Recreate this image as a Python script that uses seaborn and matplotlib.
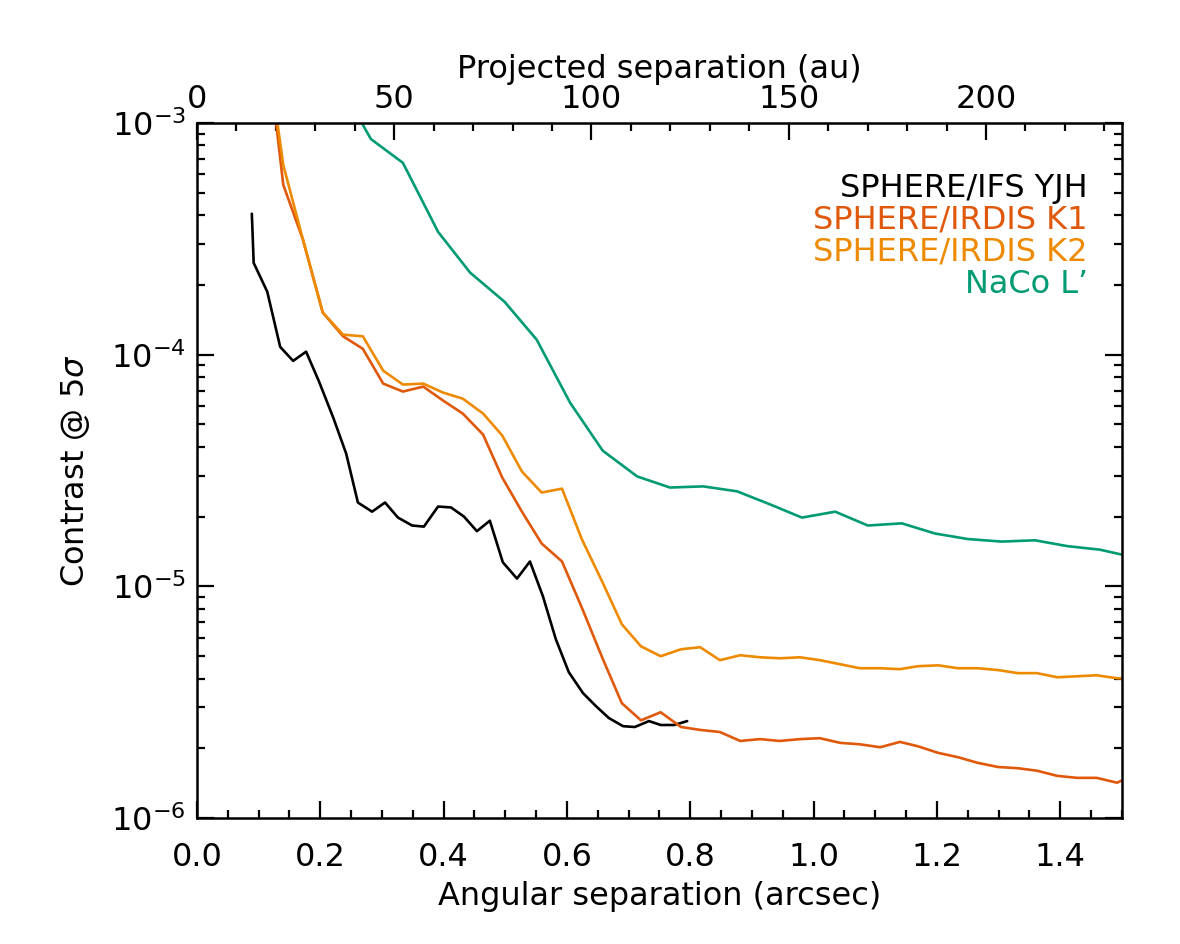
import numpy as np
import pandas as pd
import seaborn as sns
import matplotlib.pyplot as plt
from matplotlib.ticker import MultipleLocator, FixedLocator

# contrast curves (separation in arcsec, 5 sigma contrast)
ifs_sep = [0.089, 0.092, 0.114, 0.135, 0.156, 0.177, 0.198, 0.221, 0.242, 0.261,
           0.284, 0.305, 0.326, 0.349, 0.368, 0.391, 0.412, 0.433, 0.454, 0.475,
           0.496, 0.519, 0.540, 0.561, 0.582, 0.603, 0.626, 0.647, 0.668, 0.691,
           0.710, 0.733, 0.752, 0.774, 0.795]
ifs_con = [4.06e-4, 2.49e-4, 1.87e-4, 1.08e-4, 9.4e-5, 1.03e-4, 7.65e-5, 5.35e-5, 3.74e-5, 2.30e-5,
           2.10e-5, 2.30e-5, 1.98e-5, 1.83e-5, 1.81e-5, 2.21e-5, 2.19e-5, 2.00e-5, 1.73e-5, 1.92e-5,
           1.27e-5, 1.08e-5, 1.28e-5, 9.06e-6, 5.91e-6, 4.26e-6, 3.46e-6, 3.04e-6, 2.70e-6, 2.49e-6,
           2.47e-6, 2.62e-6, 2.52e-6, 2.52e-6, 2.62e-6]

irdis_sep = [0.107, 0.140, 0.172, 0.204, 0.237, 0.269, 0.302, 0.334, 0.367, 0.399,
             0.431, 0.464, 0.495, 0.527, 0.559, 0.592, 0.624, 0.657, 0.689, 0.720,
             0.752, 0.785, 0.816, 0.848, 0.881, 0.913, 0.945, 0.978, 1.010, 1.043,
             1.075, 1.108, 1.140, 1.169, 1.202, 1.234, 1.266, 1.299, 1.331, 1.362,
             1.395, 1.427, 1.459, 1.492, 1.524]
k1_con = [3.1e-3, 5.41e-4, 3.13e-4, 1.52e-4, 1.20e-4, 1.06e-4, 7.50e-5, 6.93e-5, 7.28e-5, 6.34e-5,
          5.57e-5, 4.52e-5, 2.95e-5, 2.10e-5, 1.53e-5, 1.28e-5, 8.11e-6, 4.94e-6, 3.13e-6, 2.64e-6,
          2.86e-6, 2.47e-6, 2.40e-6, 2.35e-6, 2.15e-6, 2.19e-6, 2.15e-6, 2.19e-6, 2.21e-6, 2.11e-6,
          2.08e-6, 2.02e-6, 2.13e-6, 2.04e-6, 1.91e-6, 1.83e-6, 1.73e-6, 1.66e-6, 1.64e-6, 1.60e-6,
          1.52e-6, 1.49e-6, 1.49e-6, 1.42e-6, 1.55e-6]
k2_con = [2.8e-3, 6.59e-4, 3.13e-4, 1.52e-4, 1.22e-4, 1.20e-4, 8.53e-5, 7.43e-5, 7.50e-5, 6.86e-5,
          6.46e-5, 5.57e-5, 4.48e-5, 3.13e-5, 2.54e-5, 2.64e-5, 1.60e-5, 1.05e-5, 6.86e-6, 5.51e-6,
          4.99e-6, 5.35e-6, 5.46e-6, 4.80e-6, 5.04e-6, 4.94e-6, 4.89e-6, 4.94e-6, 4.80e-6, 4.61e-6,
          4.43e-6, 4.43e-6, 4.39e-6, 4.52e-6, 4.56e-6, 4.43e-6, 4.43e-6, 4.35e-6, 4.22e-6, 4.22e-6,
          4.05e-6, 4.09e-6, 4.13e-6, 4.01e-6, 4.0e-6]

naco_sep = [0.227, 0.282, 0.334, 0.391, 0.443, 0.499, 0.551, 0.605, 0.658, 0.714,
            0.767, 0.821, 0.876, 0.929, 0.981, 1.035, 1.088, 1.143, 1.197, 1.250,
            1.305, 1.359, 1.412, 1.464, 1.500]
naco_con = [1.55e-3, 8.53e-4, 6.73e-4, 3.39e-4, 2.26e-4, 1.69e-4, 1.16e-4, 6.21e-5, 3.85e-5, 2.98e-5,
            2.67e-5, 2.70e-5, 2.57e-5, 2.26e-5, 1.98e-5, 2.10e-5, 1.83e-5, 1.87e-5, 1.69e-5, 1.60e-5,
            1.56e-5, 1.58e-5, 1.49e-5, 1.44e-5, 1.37e-5]

labels = ['SPHERE/IFS YJH', 'SPHERE/IRDIS K1', 'SPHERE/IRDIS K2', 'NaCo L’']
colors = ['black', '#E0580A', '#EE8A00', '#009B72']
au_per_arcsec = 156.3

df = pd.concat([
    pd.DataFrame({'sep': ifs_sep, 'con': ifs_con, 'inst': labels[0]}),
    pd.DataFrame({'sep': irdis_sep, 'con': k1_con, 'inst': labels[1]}),
    pd.DataFrame({'sep': irdis_sep, 'con': k2_con, 'inst': labels[2]}),
    pd.DataFrame({'sep': naco_sep, 'con': naco_con, 'inst': labels[3]}),
])

sns.set_style('white')
plt.rcParams['font.family'] = ['DejaVu Sans']
plt.rcParams['mathtext.fontset'] = 'dejavusans'
plt.rcParams['text.color'] = 'black'
plt.rcParams['axes.labelcolor'] = 'black'

fig = plt.figure(figsize=(11.8, 9.44), dpi=100)
ax = fig.add_axes([0.1669, 0.1335, 0.7839, 0.7362])

sns.lineplot(data=df, x='sep', y='con', hue='inst', palette=dict(zip(labels, colors)),
             estimator=None, sort=False, linewidth=1.9, legend=False, ax=ax)

ax.set_yscale('log')
ax.set_xlim(0, 1.5)
ax.set_ylim(1e-6, 1e-3)

ax.xaxis.set_major_locator(MultipleLocator(0.2))
ax.xaxis.set_minor_locator(MultipleLocator(0.05))
ax.xaxis.set_major_formatter(plt.FormatStrFormatter('%.1f'))
ax.tick_params(which='both', direction='in', bottom=True, left=True, top=False, right=True,
               width=1.6, color='black', labelcolor='black')
ax.tick_params(which='major', length=12, labelsize=23)
ax.tick_params(which='minor', length=6)
ax.tick_params(axis='x', which='major', pad=17)
ax.tick_params(axis='y', which='major', pad=8)
for s in ax.spines.values():
    s.set_linewidth(1.8)
    s.set_color('black')

ax.set_xlabel('Angular separation (arcsec)', fontsize=23, labelpad=6)
ax.set_ylabel(r'Contrast @ 5$\sigma$', fontsize=23, labelpad=14)

top = ax.secondary_xaxis('top', functions=(lambda a: a * au_per_arcsec, lambda p: p / au_per_arcsec))
top.xaxis.set_major_locator(FixedLocator([0, 50, 100, 150, 200]))
top.xaxis.set_minor_locator(MultipleLocator(10))
top.tick_params(which='both', direction='in', width=1.6, color='black', labelcolor='black')
top.tick_params(which='major', length=12, labelsize=23, pad=6)
top.tick_params(which='minor', length=6)
top.set_xlabel('Projected separation (au)', fontsize=23, labelpad=4, color='black')

for i, (lab, col) in enumerate(zip(labels, colors)):
    ax.text(0.963, 0.906 - i * 0.046, lab, color=col, fontsize=23,
            ha='right', va='center', transform=ax.transAxes)

plt.savefig('out.png', dpi=100)
